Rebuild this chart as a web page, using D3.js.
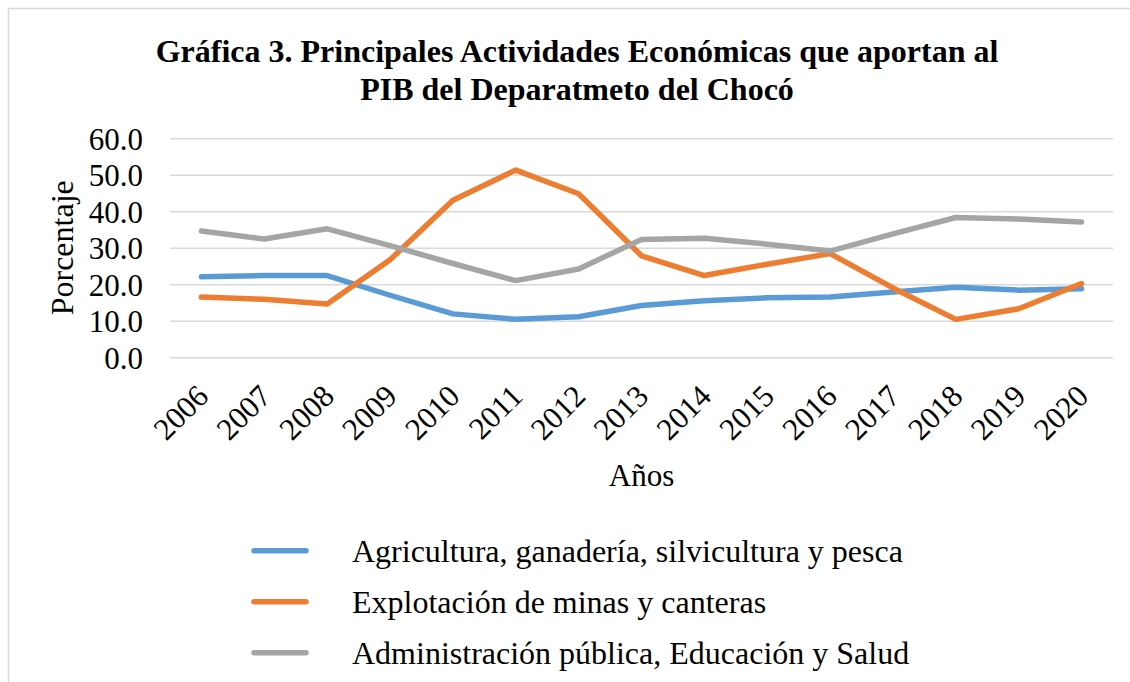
<!DOCTYPE html>
<html>
<head>
<meta charset="utf-8">
<script src="https://cdn.jsdelivr.net/npm/d3@7"></script>
<style>
  html, body { margin: 0; padding: 0; background: #fff; }
  svg { display: block; }
  text { font-family: "Liberation Serif", "Times New Roman", serif; fill: #000; }
</style>
</head>
<body>
<svg id="chart" width="1130" height="682"></svg>
<script>
const years = ["2006","2007","2008","2009","2010","2011","2012","2013","2014","2015","2016","2017","2018","2019","2020"];
const agricultura = [22.1, 22.4, 22.4, 17.0, 11.9, 10.4, 11.1, 14.2, 15.5, 16.3, 16.5, 17.9, 19.2, 18.4, 18.8];
const mineria = [16.5, 15.9, 14.6, 26.7, 43.0, 51.3, 44.8, 27.8, 22.4, 25.5, 28.4, 19.0, 10.4, 13.3, 20.2];
const administracion = [34.6, 32.4, 35.2, 30.6, 25.7, 21.0, 24.2, 32.3, 32.6, 31.0, 29.1, 33.8, 38.3, 37.9, 37.1];
const seriesNames = ["Agricultura, ganadería, silvicultura y pesca", "Explotación de minas y canteras", "Administración pública, Educación y Salud"];
const seriesColors = ["#5B9BD5", "#ED7D31", "#A5A5A5"];
const yTicks = [0, 10, 20, 30, 40, 50, 60];
const titleLines = ["Gráfica 3. Principales Actividades Económicas que aportan al", "PIB del Deparatmeto del Chocó"];
const xTitle = "Años";
const yTitle = "Porcentaje";

const series = [agricultura, mineria, administracion];

const svg = d3.select("#chart");

// outer chart border
svg.append("rect").attr("x", 8.5).attr("y", 8.5).attr("width", 1140).attr("height", 700)
  .attr("fill", "none").attr("stroke", "#D9D9D9").attr("stroke-width", 1.5);

const plot = { left: 170, right: 1113, top: 138.3, bottom: 357.3 };

const x = d3.scaleBand().domain(years).range([plot.left, plot.right]);
const y = d3.scaleLinear().domain([0, 60]).range([plot.bottom, plot.top]);

// title
svg.append("g").selectAll("text").data(titleLines).join("text")
  .attr("x", 577).attr("y", (d, i) => 62 + i * 38)
  .attr("text-anchor", "middle")
  .style("font-weight", "bold").style("font-size", "32px")
  .text(d => d);

// gridlines + y tick labels
const yAxis = d3.axisLeft(y).tickValues(yTicks).tickFormat(d3.format(".1f"))
  .tickSize(-(plot.right - plot.left)).tickPadding(27);
const gy = svg.append("g").attr("transform", `translate(${plot.left},0)`).call(yAxis);
gy.select(".domain").remove();
gy.selectAll(".tick line").attr("stroke", "#D9D9D9").attr("stroke-width", 1.5);
gy.selectAll(".tick text").style("font-size", "31px").attr("dy", "0.35em");

// x axis labels
const xAxis = d3.axisBottom(x).tickSize(0).tickPadding(0);
const gx = svg.append("g").attr("transform", `translate(0,${plot.bottom})`).call(xAxis);
gx.select(".domain").remove();
gx.selectAll(".tick text")
  .style("font-size", "31px")
  .attr("text-anchor", "end")
  .attr("dy", "0.35em")
  .attr("transform", "translate(1,33) rotate(-45)")
  .attr("y", 0).attr("x", 0);

// axis titles
svg.append("text").attr("x", (plot.left + plot.right) / 2).attr("y", 486)
  .attr("text-anchor", "middle").style("font-size", "31px").text(xTitle);
svg.append("text").attr("transform", `translate(73,${(plot.top + plot.bottom) / 2}) rotate(-90)`)
  .attr("text-anchor", "middle").style("font-size", "32px").text(yTitle);

// lines
const line = d3.line().x((d, i) => x(years[i]) + x.bandwidth() / 2).y(d => y(d));
svg.append("g").selectAll("path").data(series).join("path")
  .attr("d", d => line(d))
  .attr("fill", "none")
  .attr("stroke", (d, i) => seriesColors[i])
  .attr("stroke-width", 5.5)
  .attr("stroke-linejoin", "round")
  .attr("stroke-linecap", "round");

// legend
const lg = svg.append("g").selectAll("g").data(seriesNames).join("g")
  .attr("transform", (d, i) => `translate(0,${550.7 + i * 51})`);
lg.append("line").attr("x1", 254).attr("x2", 306).attr("y1", 0).attr("y2", 0)
  .attr("stroke", (d, i) => seriesColors[i]).attr("stroke-width", 5.5).attr("stroke-linecap", "round");
lg.append("text").attr("x", 352).attr("y", 0).attr("dy", "0.35em")
  .style("font-size", "32px").text(d => d);
</script>
</body>
</html>
